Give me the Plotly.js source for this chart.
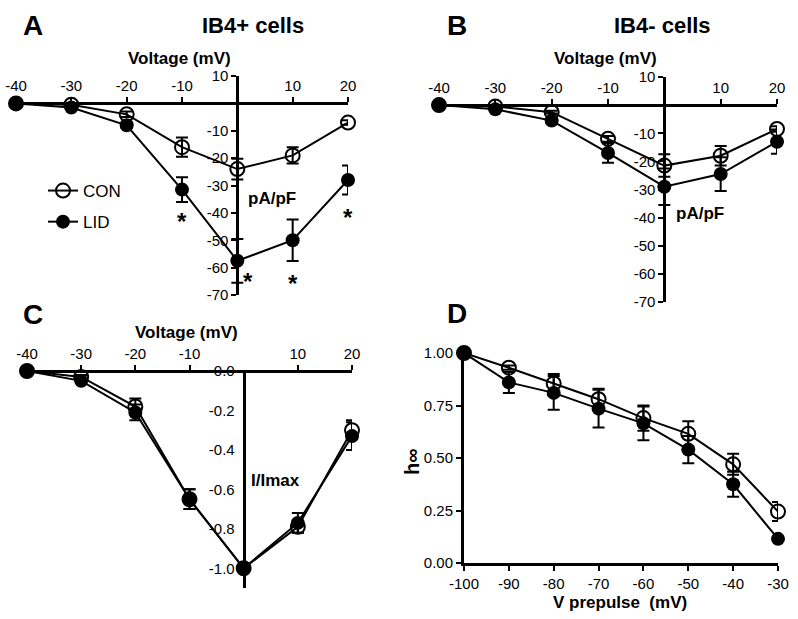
<!DOCTYPE html>
<html>
<head>
<meta charset="utf-8">
<script src="https://cdn.plot.ly/plotly-3.0.1.min.js"></script>
<style>html,body{margin:0;padding:0;background:#fff;}#chart{width:798px;height:619px;}</style>
</head>
<body>
<div id="chart"></div>
<script>
// ---------- data ----------
const voltage = [-40, -30, -20, -10, 0, 10, 20];
const voltageTickVals = [-40, -30, -20, -10, 10, 20];
const voltageTickText = ['-40', '-30', '-20', '-10', '10', '20'];

// Panel A: IB4+ cells, current density (pA/pF)
const aCon = [0, -0.5, -4, -16, -24, -19, -7];
const aConErr = [0, 0.5, 1, 3.5, 3.8, 3, 0.8];
const aLid = [0, -1.5, -8, -31.5, -57.5, -50, -28];
const aLidErr = [0, 0.5, 1, 4.5, 8, 7.6, 5.3];

// Panel B: IB4- cells, current density (pA/pF)
const bCon = [0, -0.5, -2.5, -12, -21.5, -18, -8.5];
const bConErr = [0, 0.5, 0.5, 1, 4, 3.5, 1];
const bLid = [0, -1.5, -5.5, -17, -29, -24.5, -13];
const bLidErr = [0, 0.5, 1, 3.5, 6.5, 6, 4.3];

const densityTickVals = [10, -10, -20, -30, -40, -50, -60, -70];
const densityTickText = ['10', '-10', '-20', '-30', '-40', '-50', '-60', '-70'];

// Panel C: normalised current I/Imax
const cCon = [0, -0.03, -0.18, -0.65, -1.0, -0.79, -0.30];
const cConErr = [0, 0.01, 0.04, 0.05, 0, 0.03, 0.05];
const cLid = [0, -0.05, -0.21, -0.65, -1.0, -0.77, -0.33];
const cLidErr = [0, 0.01, 0.04, 0.05, 0, 0.05, 0.07];
const normTickVals = [0, -0.2, -0.4, -0.6, -0.8, -1.0];
const normTickText = ['0.0', '-0.2', '-0.4', '-0.6', '-0.8', '-1.0'];

// Panel D: steady-state inactivation h-infinity
const prepulse = [-100, -90, -80, -70, -60, -50, -40, -30];
const prepulseTickText = ['-100', '-90', '-80', '-70', '-60', '-50', '-40', '-30'];
const dCon = [1.0, 0.93, 0.855, 0.78, 0.69, 0.615, 0.47, 0.245];
const dConErr = [0, 0.01, 0.045, 0.05, 0.06, 0.06, 0.05, 0.045];
const dLid = [1.0, 0.86, 0.81, 0.735, 0.665, 0.54, 0.375, 0.115];
const dLidErr = [0, 0.05, 0.08, 0.09, 0.08, 0.065, 0.06, 0];
const hTickVals = [0, 0.25, 0.5, 0.75, 1.0];
const hTickText = ['0.00', '0.25', '0.50', '0.75', '1.00'];

// Significance markers on panel A (LID vs CON)
const sigX = [-10, 2, 10, 20];
const sigY = [-41, -62.8, -63.5, -39.4];

// ---------- layout helpers ----------
const W = 798, H = 619;
const FONT = 'Liberation Sans, Arial, Helvetica, sans-serif';
const fx = p => p / W;
const fy = p => 1 - p / H;

const geo = {
  A: {x: [16, 348], y: [76, 295], xr: [-40, 20], yr: [-70, 10]},
  B: {x: [439, 777], y: [77, 302], xr: [-40, 20], yr: [-70, 10]},
  C: {x: [27, 352], y: [371, 588], xr: [-40, 20], yr: [-1.1, 0]},
  D: {x: [464, 778], y: [353, 563], xr: [-100, -30], yr: [0, 1]}
};
function xdom(g) { return [fx(g.x[0]), fx(g.x[1])]; }
function ydom(g) { return [fy(g.y[1]), fy(g.y[0])]; }
function posX(g, v) { const d = xdom(g); return d[0] + (v - g.xr[0]) / (g.xr[1] - g.xr[0]) * (d[1] - d[0]); }
function posY(g, v) { const d = ydom(g); return d[0] + (v - g.yr[0]) / (g.yr[1] - g.yr[0]) * (d[1] - d[0]); }

const tickFont = {family: FONT, size: 15, color: '#000'};
const axisBase = {
  showgrid: false, zeroline: false, showline: true, linecolor: '#000', linewidth: 3,
  ticks: 'outside', ticklen: 5, tickwidth: 2, tickcolor: '#000', tickfont: tickFont,
  fixedrange: true, automargin: false, tickmode: 'array'
};

function conTrace(x, y, err, xa, ya, show) {
  return {
    x: x, y: y, xaxis: xa, yaxis: ya, type: 'scatter', mode: 'lines+markers', name: 'CON',
    legendgroup: 'con', showlegend: show, cliponaxis: false,
    line: {color: '#000', width: 2},
    marker: {symbol: 'circle-open', size: 14, color: '#000', line: {width: 2, color: '#000'}},
    error_y: {type: 'data', array: err, visible: true, color: '#000', thickness: 2, width: 6}
  };
}
function lidTrace(x, y, err, xa, ya, show) {
  return {
    x: x, y: y, xaxis: xa, yaxis: ya, type: 'scatter', mode: 'lines+markers', name: 'LID',
    legendgroup: 'lid', showlegend: show, cliponaxis: false,
    line: {color: '#000', width: 2},
    marker: {symbol: 'circle', size: 14, color: '#000'},
    error_y: {type: 'data', array: err, visible: true, color: '#000', thickness: 2, width: 6}
  };
}

const data = [
  conTrace(voltage, aCon, aConErr, 'x', 'y', true),
  lidTrace(voltage, aLid, aLidErr, 'x', 'y', true),
  conTrace(voltage, bCon, bConErr, 'x2', 'y2', false),
  lidTrace(voltage, bLid, bLidErr, 'x2', 'y2', false),
  conTrace(voltage, cCon, cConErr, 'x3', 'y3', false),
  lidTrace(voltage, cLid, cLidErr, 'x3', 'y3', false),
  conTrace(prepulse, dCon, dConErr, 'x4', 'y4', false),
  lidTrace(prepulse, dLid, dLidErr, 'x4', 'y4', false)
];

function crossX(g) {
  return Object.assign({}, axisBase, {
    domain: xdom(g), range: g.xr, anchor: 'free', position: posY(g, 0), side: 'top',
    tickvals: voltageTickVals, ticktext: voltageTickText
  });
}
function crossY(g, vals, text) {
  return Object.assign({}, axisBase, {
    domain: ydom(g), range: g.yr, anchor: 'free', position: posX(g, 0), side: 'left',
    tickvals: vals, ticktext: text
  });
}

const layout = {
  width: W, height: H,
  margin: {l: 0, r: 0, t: 0, b: 0, pad: 0},
  paper_bgcolor: '#fff', plot_bgcolor: 'rgba(0,0,0,0)',
  font: {family: FONT, color: '#000'},
  showlegend: true,
  legend: {
    x: fx(43), y: fy(173), xanchor: 'left', yanchor: 'top',
    bgcolor: 'rgba(0,0,0,0)', borderwidth: 0,
    font: {family: FONT, size: 17, color: '#000'},
    traceorder: 'grouped', tracegroupgap: 6, itemwidth: 30
  },
  xaxis: crossX(geo.A),
  yaxis: crossY(geo.A, densityTickVals, densityTickText),
  xaxis2: crossX(geo.B),
  yaxis2: crossY(geo.B, densityTickVals, densityTickText),
  xaxis3: crossX(geo.C),
  yaxis3: Object.assign(crossY(geo.C, normTickVals, normTickText), {tickcolor: 'rgba(0,0,0,0)'}),
  xaxis4: Object.assign({}, axisBase, {
    domain: xdom(geo.D), range: geo.D.xr, anchor: 'y4', side: 'bottom',
    tickvals: prepulse, ticktext: prepulseTickText
  }),
  yaxis4: Object.assign({}, axisBase, {
    domain: ydom(geo.D), range: geo.D.yr, anchor: 'x4', side: 'left',
    tickvals: hTickVals, ticktext: hTickText
  }),
  annotations: []
};

function paperText(text, px, py, size, extra) {
  return Object.assign({
    text: text, xref: 'paper', yref: 'paper', x: fx(px), y: fy(py),
    xanchor: 'center', yanchor: 'middle', showarrow: false,
    font: {family: FONT, size: size, color: '#000'}
  }, extra || {});
}
const ann = layout.annotations;
ann.push(paperText('<b>A</b>', 33, 25, 28));
ann.push(paperText('<b>B</b>', 457, 25, 28));
ann.push(paperText('<b>C</b>', 33, 314, 28));
ann.push(paperText('<b>D</b>', 457, 313, 28));
ann.push(paperText('<b>IB4+ cells</b>', 253, 25, 22));
ann.push(paperText('<b>IB4- cells</b>', 662, 25, 22));
ann.push(paperText('<b>Voltage (mV)</b>', 179, 58, 17));
ann.push(paperText('<b>Voltage (mV)</b>', 605, 59, 17));
ann.push(paperText('<b>Voltage (mV)</b>', 186, 332, 17));
ann.push(paperText('<b>pA/pF</b>', 272, 198, 17));
ann.push(paperText('<b>pA/pF</b>', 700, 213, 17));
ann.push(paperText('<b>I/Imax</b>', 275, 480, 17));
ann.push(paperText('<b>V prepulse  (mV)</b>', 620, 602, 17));
ann.push(paperText('<b>h∞</b>', 412, 462, 20, {textangle: -90}));

for (let i = 0; i < sigX.length; i++) {
  ann.push({
    text: '<b>*</b>', xref: 'x', yref: 'y', x: sigX[i], y: sigY[i],
    xanchor: 'center', yanchor: 'middle', yshift: -6, showarrow: false,
    font: {family: FONT, size: 24, color: '#000'}
  });
}

Plotly.newPlot('chart', data, layout, {displayModeBar: false, staticPlot: true});
</script>
</body>
</html>
